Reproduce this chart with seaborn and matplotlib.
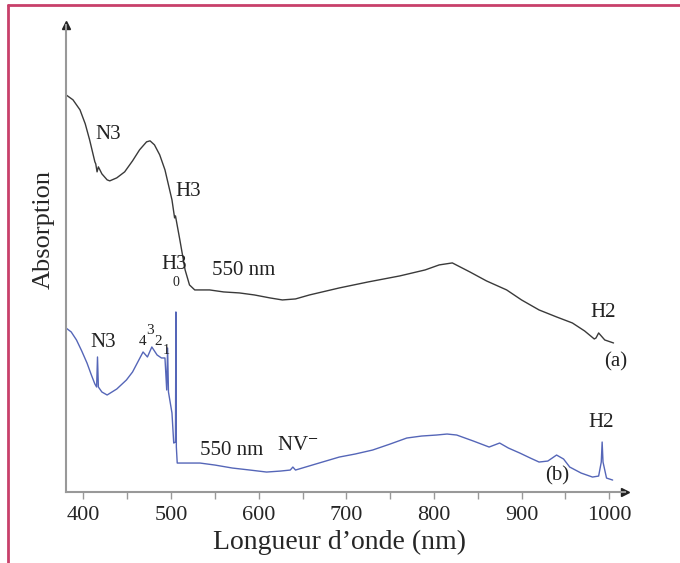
import numpy as np
import pandas as pd
import matplotlib
matplotlib.use("Agg")
import matplotlib.pyplot as plt
import seaborn as sns
from matplotlib.lines import Line2D

# spectrum (a): wavelength (nm) and absorption (arb. units)
wl_a = [380, 388, 396, 402, 407, 413, 414, 415.5, 417, 421, 427, 430, 438, 447, 456, 464, 472, 476,
        481, 487, 493, 501, 503, 504, 505, 510, 516, 521, 527, 544, 560, 578, 595, 613, 627, 642,
        658, 692, 725, 761, 790, 806, 821, 841, 860, 883, 900, 920, 940, 958, 972, 983, 985, 988,
        991, 995, 1005]
abs_a = [3.97, 3.92, 3.82, 3.68, 3.52, 3.30, 3.28, 3.20, 3.25, 3.18, 3.12, 3.11, 3.14, 3.20, 3.31, 3.42,
         3.50, 3.51, 3.47, 3.37, 3.22, 2.92, 2.80, 2.74, 2.76, 2.52, 2.22, 2.07, 2.02, 2.02, 2.00, 1.99,
         1.97, 1.94, 1.92, 1.93, 1.97, 2.04, 2.10, 2.16, 2.22, 2.27, 2.29, 2.20, 2.11, 2.02, 1.92, 1.82,
         1.75, 1.69, 1.61, 1.53, 1.54, 1.59, 1.56, 1.52, 1.49]

# spectrum (b)
wl_b = [380, 386, 392, 398, 404, 409, 413, 415, 416, 417, 421, 427, 438, 449, 456, 462, 468, 473,
        478, 484, 489, 493, 495, 496, 497, 501, 503, 505, 505.5, 506, 507, 512, 533, 550, 570, 590,
        609, 625, 636, 639, 642, 665, 692, 710, 730, 750, 769, 786, 803, 815, 826, 845, 863, 875,
        885, 898, 910, 920, 930, 940, 948, 955, 968, 981, 988, 991, 992, 993, 997, 1004]
abs_b = [1.64, 1.60, 1.52, 1.41, 1.29, 1.17, 1.08, 1.05, 1.35, 1.05, 1.00, 0.97, 1.03, 1.12, 1.20, 1.30,
         1.40, 1.35, 1.45, 1.37, 1.34, 1.34, 1.02, 1.44, 1.00, 0.79, 0.49, 0.50, 1.80, 0.45, 0.29, 0.29,
         0.29, 0.27, 0.24, 0.22, 0.20, 0.21, 0.22, 0.25, 0.22, 0.28, 0.35, 0.38, 0.42, 0.48, 0.54, 0.56,
         0.57, 0.58, 0.57, 0.51, 0.45, 0.49, 0.44, 0.39, 0.34, 0.30, 0.31, 0.37, 0.33, 0.25, 0.19, 0.15,
         0.16, 0.30, 0.50, 0.30, 0.14, 0.12]

# annotations: (text, wavelength, absorption, size)
labels = [("N3", 428, 3.57, 15), ("H3", 519, 3.00, 15), ("550 nm", 583, 2.21, 15),
          ("H2", 993, 1.79, 15), ("(a)", 1008, 1.30, 15),
          ("H3", 504, 2.27, 15), ("0", 505, 2.09, 10), ("N3", 422, 1.49, 15),
          ("4", 467, 1.50, 11), ("3", 476, 1.61, 11), ("2", 485, 1.50, 11), ("1", 495, 1.41, 10),
          ("550 nm", 569, 0.42, 15), ("NV$^{-}$", 645, 0.47, 15),
          ("H2", 991, 0.70, 15), ("(b)", 941, 0.16, 15)]

sns.set_style("white")
plt.rcParams["font.family"] = ["Liberation Serif", "DejaVu Serif"]
plt.rcParams["mathtext.fontset"] = "stix"

df_a = pd.DataFrame({"wl": wl_a, "absorption": abs_a})
df_b = pd.DataFrame({"wl": wl_b, "absorption": abs_b})

fig = plt.figure(figsize=(6.8, 5.63), dpi=100)
ax = fig.add_axes([0.097, 0.126, 0.822, 0.830])

sns.lineplot(data=df_a, x="wl", y="absorption", color="#3a3a3a", linewidth=1.0, ax=ax)
sns.lineplot(data=df_b, x="wl", y="absorption", color="#5566b8", linewidth=1.0, ax=ax)

for txt, x, y, s in labels:
    ax.text(x, y, txt, fontsize=s, ha="center", va="center", color="#222222")

ax.set_xlim(380, 1018)
ax.set_ylim(0, 4.67)
ax.set_xticks([400, 500, 600, 700, 800, 900, 1000])
ax.set_xticks([450, 550, 650, 750, 850, 950], minor=True)
ax.tick_params(axis="x", which="both", direction="out", length=5, width=1, color="#999999",
               labelsize=16, pad=5, bottom=True)
ax.set_yticks([])
ax.set_xlabel("Longueur d’onde (nm)", fontsize=20)
ax.set_ylabel("Absorption", fontsize=19)
ax.xaxis.set_label_coords(0.49, -0.08)
ax.yaxis.set_label_coords(-0.02, 0.561)

for side in ["top", "right"]:
    ax.spines[side].set_visible(False)
for side in ["left", "bottom"]:
    ax.spines[side].set_color("#999999")
    ax.spines[side].set_linewidth(1.5)

# arrow heads on axes
ax.plot(1, 0, ">", color="#222222", markersize=6, transform=ax.transAxes, clip_on=False)
ax.plot(0, 1, "^", color="#222222", markersize=6, transform=ax.transAxes, clip_on=False)

# page frame
fig.add_artist(Line2D([0.012, 1.0], [0.991, 0.991], color="#c8406a", linewidth=2))
fig.add_artist(Line2D([0.012, 0.012], [0.0, 0.991], color="#c8406a", linewidth=2))

fig.savefig("out.png", dpi=100)
